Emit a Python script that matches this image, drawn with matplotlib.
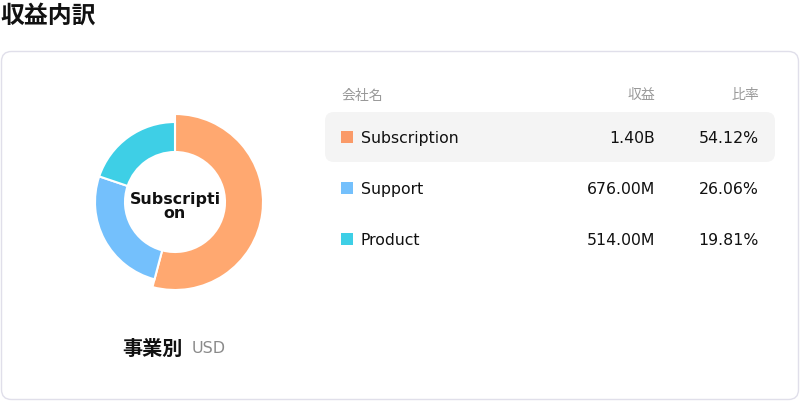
import matplotlib
matplotlib.use("Agg")
from matplotlib import pyplot as plt
from matplotlib.patches import FancyBboxPatch, Rectangle

plt.rcParams['font.family'] = ['DejaVu Sans', 'Noto Sans CJK JP']

# data
categories = ['Subscription', 'Support', 'Product']
revenue_labels = ['1.40B', '676.00M', '514.00M']
shares = [54.12, 26.06, 19.81]
colors = ['#FFA870', '#74C0FC', '#3ECFE6']
legend_colors = ['#FA9A68', '#74C0FC', '#3ECFE6']
headers = ['会社名', '収益', '比率']
selected = 0  # highlighted slice / row

W, H = 800, 402
fig = plt.figure(figsize=(W / 100, H / 100), dpi=100)

# background axes in pixel coords (y down)
bg = fig.add_axes([0, 0, 1, 1])
bg.set_xlim(0, W)
bg.set_ylim(H, 0)
bg.axis('off')

bg.text(0, 16, '収益内訳', fontsize=17.2, fontweight='bold', va='center', ha='left', color='#111111')

card = FancyBboxPatch((1.5, 52.5), 797, 348, boxstyle='round,pad=0,rounding_size=10',
                      fc='white', ec='#E0DFEA', lw=1)
bg.add_patch(card)

# table header
bg.text(341, 95.5, headers[0], fontsize=10, color='#999999', va='center', ha='left')
bg.text(655, 95.5, headers[1], fontsize=10, color='#999999', va='center', ha='right')
bg.text(759, 95.5, headers[2], fontsize=10, color='#999999', va='center', ha='right')

row_y = [138, 189, 240]
hl = FancyBboxPatch((325, row_y[selected] - 25), 450, 50, boxstyle='round,pad=0,rounding_size=9',
                    fc='#F4F4F4', ec='none')
bg.add_patch(hl)
for i, name in enumerate(categories):
    y = row_y[i] + 0.8
    bg.add_patch(Rectangle((341, row_y[i] - 6), 12, 12, fc=legend_colors[i], ec='none'))
    bg.text(361, y, name, fontsize=11.3, color='#111111', va='center', ha='left')
    bg.text(655, y, revenue_labels[i], fontsize=11.3, color='#111111', va='center', ha='right')
    bg.text(759, y, '%.2f%%' % shares[i], fontsize=11.3, color='#111111', va='center', ha='right')

# footer under donut
bg.text(183, 349, '事業別', fontsize=14.5, fontweight='bold', color='#111111', va='center', ha='right')
bg.text(192, 349, 'USD', fontsize=11.5, color='#8A8A8A', va='center', ha='left')

# donut (selected slice drawn larger)
cx, cy = 175, 203
r_big, r_norm, r_in = 88, 80, 50
ax = fig.add_axes([(cx - r_big) / W, (H - cy - r_big) / H, 2 * r_big / W, 2 * r_big / H])
wedges, _ = ax.pie(shares, colors=colors, startangle=90, counterclock=False,
                   radius=r_norm / r_big,
                   wedgeprops=dict(width=(r_norm - r_in) / r_big, edgecolor='white', linewidth=1.5))
wedges[selected].set_radius(1.0)
wedges[selected].set_width((r_big - r_in) / r_big)
ax.set_xlim(-1, 1)
ax.set_ylim(-1, 1)
ax.axis('off')
ax.text(0, -0.04, 'Subscripti\non', fontsize=11.4, fontweight='bold', ha='center', va='center',
        linespacing=0.98, color='#111111')

fig.savefig('out.png', dpi=100)
